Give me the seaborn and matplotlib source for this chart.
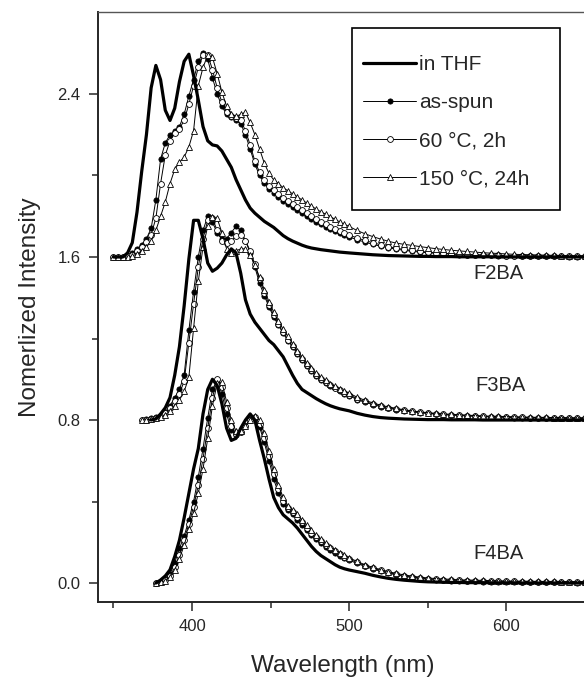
import numpy as np
import pandas as pd
import matplotlib
matplotlib.use("Agg")
import matplotlib.pyplot as plt
from matplotlib.patches import Rectangle
from matplotlib.ticker import FixedLocator, FormatStrFormatter
import seaborn as sns

nan = np.nan

# wavelength grid (nm) the spectra were read at
wavelength = [350, 353, 356, 359, 362, 365, 368, 371, 374, 377,
              380, 383, 386, 389, 392, 395, 398, 401, 404, 407,
              410, 413, 416, 419, 422, 425, 428, 431, 434, 437,
              440, 443, 446, 449, 452, 455, 458, 461, 464, 467,
              470, 473, 476, 479, 482, 485, 488, 491, 494, 497,
              500, 505, 510, 515, 520, 525, 530, 535, 540, 545,
              550, 555, 560, 565, 570, 575, 580, 585, 590, 595,
              600, 605, 610, 615, 620, 625, 630, 635, 640, 645,
              650]

# normalized intensities, each sample stacked later by its offset
f2ba_thf = [0, 0, 0, 0.02, 0.07, 0.22, 0.42, 0.60, 0.83, 0.94,
            0.87, 0.72, 0.67, 0.73, 0.86, 0.96, 0.995, 0.89, 0.77, 0.64,
            0.57, 0.55, 0.545, 0.52, 0.48, 0.44, 0.38, 0.33, 0.28, 0.24,
            0.215, 0.195, 0.175, 0.16, 0.145, 0.125, 0.105, 0.09, 0.078, 0.068,
            0.058, 0.05, 0.044, 0.04, 0.036, 0.033, 0.03, 0.027, 0.024, 0.022,
            0.02, 0.017, 0.014, 0.011, 0.009, 0.007, 0.006, 0.005, 0.004, 0.003,
            0.003, 0.002, 0.002, 0.002, 0.001, 0.001, 0.001, 0.001, 0.001, 0,
            0, 0, 0, 0, 0, 0, 0, 0, 0, 0,
            0]
f2ba_spun = [0, 0, 0, 0.005, 0.02, 0.04, 0.06, 0.09, 0.14, 0.28,
             0.48, 0.56, 0.60, 0.62, 0.64, 0.70, 0.79, 0.87, 0.96, 1.0,
             0.97, 0.88, 0.80, 0.74, 0.70, 0.685, 0.67, 0.655, 0.60, 0.53,
             0.455, 0.40, 0.365, 0.335, 0.315, 0.295, 0.277, 0.26, 0.245, 0.23,
             0.215, 0.2, 0.186, 0.172, 0.16, 0.148, 0.137, 0.126, 0.116, 0.107,
             0.098, 0.085, 0.073, 0.062, 0.053, 0.045, 0.038, 0.033, 0.028, 0.024,
             0.021, 0.018, 0.016, 0.014, 0.012, 0.011, 0.01, 0.009, 0.008, 0.007,
             0.006, 0.005, 0.005, 0.004, 0.004, 0.003, 0.003, 0.003, 0.002, 0.002,
             0.002]
f2ba_60 = [0, 0, 0, 0.003, 0.012, 0.03, 0.05, 0.075, 0.11, 0.19,
           0.36, 0.50, 0.57, 0.61, 0.63, 0.67, 0.75, 0.84, 0.93, 0.99,
           0.99, 0.92, 0.83, 0.76, 0.71, 0.69, 0.68, 0.67, 0.62, 0.55,
           0.47, 0.415, 0.38, 0.35, 0.33, 0.31, 0.29, 0.275, 0.26, 0.245,
           0.23, 0.215, 0.2, 0.185, 0.172, 0.16, 0.148, 0.137, 0.126, 0.116,
           0.107, 0.094, 0.081, 0.07, 0.06, 0.051, 0.043, 0.037, 0.032, 0.028,
           0.024, 0.021, 0.018, 0.016, 0.014, 0.012, 0.011, 0.01, 0.009, 0.008,
           0.007, 0.006, 0.006, 0.005, 0.005, 0.004, 0.004, 0.003, 0.003, 0.003,
           0.003]
f2ba_150 = [0, 0, 0, 0, 0.005, 0.015, 0.03, 0.05, 0.08, 0.13,
            0.20, 0.27, 0.36, 0.43, 0.465, 0.49, 0.54, 0.62, 0.84, 0.93,
            0.99, 0.98, 0.90, 0.81, 0.74, 0.70, 0.69, 0.70, 0.71, 0.66,
            0.60, 0.53, 0.46, 0.41, 0.378, 0.36, 0.34, 0.325, 0.31, 0.295,
            0.28, 0.265, 0.25, 0.235, 0.222, 0.21, 0.198, 0.185, 0.172, 0.16,
            0.15, 0.13, 0.114, 0.10, 0.088, 0.077, 0.068, 0.062, 0.057, 0.051,
            0.046, 0.041, 0.037, 0.033, 0.03, 0.027, 0.024, 0.021, 0.019, 0.017,
            0.015, 0.013, 0.012, 0.011, 0.01, 0.009, 0.008, 0.007, 0.007, 0.006,
            0.006]

f3ba_thf = [nan, nan, nan, nan, nan, nan, nan, nan, 0, 0.005,
            0.03, 0.06, 0.11, 0.22, 0.36, 0.56, 0.79, 0.98, 0.98, 0.89,
            0.77, 0.73, 0.745, 0.77, 0.81, 0.84, 0.82, 0.72, 0.59, 0.52,
            0.48, 0.45, 0.42, 0.39, 0.37, 0.34, 0.31, 0.265, 0.22, 0.18,
            0.15, 0.135, 0.12, 0.105, 0.092, 0.08, 0.07, 0.062, 0.055, 0.05,
            0.045, 0.033, 0.024, 0.017, 0.012, 0.009, 0.007, 0.005, 0.004, 0.003,
            0.002, 0.002, 0.002, 0.001, 0.001, 0.001, 0.001, 0, 0, 0,
            0, 0, 0, 0, 0, 0, 0, 0, 0, 0,
            0]
f3ba_spun = [nan, nan, nan, nan, nan, nan, 0, 0.003, 0.008, 0.015,
             0.025, 0.04, 0.07, 0.11, 0.15, 0.22, 0.44, 0.63, 0.80, 0.93,
             1.0, 0.97, 0.92, 0.89, 0.89, 0.92, 0.95, 0.93, 0.88, 0.82,
             0.75, 0.67, 0.61, 0.555, 0.505, 0.465, 0.425, 0.39, 0.36, 0.325,
             0.295, 0.265, 0.24, 0.215, 0.195, 0.18, 0.165, 0.155, 0.14, 0.13,
             0.12, 0.1, 0.087, 0.076, 0.066, 0.058, 0.051, 0.045, 0.04, 0.036,
             0.032, 0.029, 0.026, 0.024, 0.022, 0.02, 0.018, 0.017, 0.015, 0.014,
             0.013, 0.012, 0.011, 0.011, 0.01, 0.01, 0.009, 0.009, 0.008, 0.008,
             0.008]
f3ba_60 = [nan, nan, nan, nan, nan, nan, 0, 0.002, 0.006, 0.012,
           0.02, 0.035, 0.06, 0.095, 0.13, 0.19, 0.38, 0.57, 0.75, 0.89,
           0.98, 0.99, 0.93, 0.88, 0.87, 0.88, 0.905, 0.91, 0.88, 0.83,
           0.765, 0.69, 0.625, 0.565, 0.515, 0.47, 0.43, 0.395, 0.362, 0.33,
           0.3, 0.272, 0.246, 0.222, 0.202, 0.186, 0.171, 0.159, 0.146, 0.135,
           0.125, 0.105, 0.091, 0.079, 0.069, 0.061, 0.054, 0.048, 0.043, 0.038,
           0.034, 0.031, 0.028, 0.026, 0.024, 0.022, 0.02, 0.018, 0.017, 0.016,
           0.015, 0.014, 0.013, 0.012, 0.012, 0.011, 0.011, 0.01, 0.01, 0.009,
           0.009]
f3ba_150 = [nan, nan, nan, nan, nan, nan, 0, 0.002, 0.004, 0.008,
            0.015, 0.025, 0.045, 0.07, 0.1, 0.14, 0.21, 0.45, 0.68, 0.85,
            0.95, 0.995, 0.99, 0.92, 0.84, 0.82, 0.83, 0.84, 0.84, 0.81,
            0.76, 0.70, 0.64, 0.58, 0.53, 0.485, 0.445, 0.41, 0.375, 0.34,
            0.31, 0.28, 0.255, 0.23, 0.21, 0.194, 0.179, 0.166, 0.153, 0.142,
            0.132, 0.112, 0.097, 0.084, 0.073, 0.064, 0.057, 0.05, 0.045, 0.04,
            0.036, 0.033, 0.03, 0.028, 0.026, 0.024, 0.022, 0.02, 0.019, 0.018,
            0.017, 0.016, 0.015, 0.014, 0.013, 0.013, 0.012, 0.012, 0.011, 0.011,
            0.011]

f4ba_thf = [nan, nan, nan, nan, nan, nan, nan, nan, nan, 0,
            0.015, 0.035, 0.065, 0.13, 0.21, 0.32, 0.44, 0.56, 0.66, 0.83,
            0.95, 1.0, 0.97, 0.88, 0.76, 0.70, 0.71, 0.76, 0.80, 0.83,
            0.80, 0.70, 0.61, 0.51, 0.42, 0.37, 0.335, 0.315, 0.295, 0.27,
            0.24, 0.21, 0.18, 0.155, 0.135, 0.12, 0.105, 0.09, 0.078, 0.07,
            0.064, 0.056, 0.048, 0.038, 0.03, 0.023, 0.018, 0.014, 0.011, 0.008,
            0.006, 0.005, 0.004, 0.003, 0.003, 0.002, 0.002, 0.002, 0.001, 0.001,
            0.001, 0.001, 0, 0, 0, 0, 0, 0, 0, 0,
            0]
f4ba_spun = [nan, nan, nan, nan, nan, nan, nan, nan, nan, 0,
             0.008, 0.02, 0.045, 0.10, 0.17, 0.23, 0.31, 0.40, 0.52, 0.66,
             0.81, 0.95, 0.995, 0.93, 0.83, 0.75, 0.725, 0.74, 0.77, 0.805,
             0.81, 0.765, 0.69, 0.60, 0.51, 0.44, 0.39, 0.36, 0.34, 0.31,
             0.285, 0.26, 0.235, 0.215, 0.195, 0.178, 0.162, 0.148, 0.135, 0.123,
             0.112, 0.096, 0.082, 0.069, 0.058, 0.048, 0.04, 0.033, 0.027, 0.022,
             0.018, 0.015, 0.013, 0.011, 0.01, 0.009, 0.008, 0.007, 0.006, 0.006,
             0.005, 0.005, 0.004, 0.004, 0.004, 0.003, 0.003, 0.003, 0.003, 0.002,
             0.002]
f4ba_60 = [nan, nan, nan, nan, nan, nan, nan, nan, nan, 0,
           0.006, 0.016, 0.037, 0.077, 0.14, 0.21, 0.29, 0.375, 0.48, 0.61,
           0.76, 0.91, 1.0, 0.96, 0.86, 0.77, 0.73, 0.74, 0.77, 0.80,
           0.815, 0.78, 0.71, 0.625, 0.535, 0.46, 0.405, 0.37, 0.35, 0.325,
           0.298, 0.272, 0.247, 0.226, 0.205, 0.187, 0.17, 0.155, 0.142, 0.13,
           0.118, 0.101, 0.086, 0.073, 0.062, 0.052, 0.043, 0.036, 0.03, 0.025,
           0.021, 0.018, 0.016, 0.014, 0.013, 0.012, 0.011, 0.01, 0.009, 0.009,
           0.008, 0.008, 0.007, 0.007, 0.006, 0.006, 0.006, 0.005, 0.005, 0.005,
           0.005]
f4ba_150 = [nan, nan, nan, nan, nan, nan, nan, nan, nan, 0,
            0.004, 0.012, 0.03, 0.065, 0.12, 0.185, 0.265, 0.345, 0.44, 0.56,
            0.71, 0.87, 0.98, 0.985, 0.89, 0.80, 0.745, 0.745, 0.77, 0.80,
            0.82, 0.80, 0.735, 0.65, 0.56, 0.48, 0.42, 0.38, 0.36, 0.337,
            0.31, 0.284, 0.258, 0.236, 0.215, 0.196, 0.178, 0.163, 0.149, 0.136,
            0.124, 0.106, 0.09, 0.077, 0.066, 0.056, 0.047, 0.04, 0.034, 0.029,
            0.025, 0.022, 0.02, 0.018, 0.016, 0.015, 0.014, 0.013, 0.012, 0.011,
            0.01, 0.01, 0.009, 0.009, 0.008, 0.008, 0.008, 0.007, 0.007, 0.007,
            0.007]

samples = ["F2BA", "F3BA", "F4BA"]
offsets = [1.6, 0.8, 0.0]
conditions = ["in THF", "as-spun", "60 °C, 2h", "150 °C, 24h"]
spectra = {
    "F2BA": [f2ba_thf, f2ba_spun, f2ba_60, f2ba_150],
    "F3BA": [f3ba_thf, f3ba_spun, f3ba_60, f3ba_150],
    "F4BA": [f4ba_thf, f4ba_spun, f4ba_60, f4ba_150],
}

rows = []
for sample, off in zip(samples, offsets):
    for cond, vals in zip(conditions, spectra[sample]):
        for w, v in zip(wavelength, vals):
            rows.append((sample, cond, w, v + off))
df = pd.DataFrame(rows, columns=["sample", "condition", "wavelength", "intensity"]).dropna()

sns.set_style("ticks")
plt.rcParams["font.family"] = ["Liberation Sans", "DejaVu Sans"]

styles = {
    "in THF": dict(lw=2.3, zorder=5),
    "as-spun": dict(lw=0.7, marker="o", ms=3.8, mfc="black", mec="black", mew=0.5, zorder=3),
    "60 °C, 2h": dict(lw=0.7, marker="o", ms=4.2, mfc="white", mec="black", mew=0.6, zorder=3),
    "150 °C, 24h": dict(lw=0.7, marker="^", ms=4.5, mfc="white", mec="black", mew=0.6, zorder=4),
}

fig = plt.figure(figsize=(5.84, 6.80), dpi=100)
ax = fig.add_axes([0.1673, 0.1147, 0.8397, 0.867])

handles = {}
for sample in samples:
    for cond in ["as-spun", "60 °C, 2h", "150 °C, 24h", "in THF"]:
        sub = df[(df["sample"] == sample) & (df["condition"] == cond)]
        sns.lineplot(data=sub, x="wavelength", y="intensity", ax=ax, color="black",
                     estimator=None, errorbar=None, **styles[cond])
        handles.setdefault(cond, ax.lines[-1])

ax.set_xlim(340, 652)
ax.set_ylim(-0.093, 2.8)
ax.xaxis.set_major_locator(FixedLocator([400, 500, 600]))
ax.xaxis.set_minor_locator(FixedLocator([350, 450, 550, 650]))
ax.yaxis.set_major_locator(FixedLocator([0.0, 0.8, 1.6, 2.4]))
ax.yaxis.set_minor_locator(FixedLocator([0.4, 1.2, 2.0]))
ax.yaxis.set_major_formatter(FormatStrFormatter("%.1f"))
ax.tick_params(which="major", direction="out", length=6.5, width=1.1, labelsize=12, pad=6)
ax.tick_params(which="minor", direction="out", length=4.3, width=1.1)
ax.tick_params(top=False, right=False)

for side in ["left", "bottom"]:
    ax.spines[side].set_linewidth(1.4)
ax.spines["top"].set_linewidth(1.0)
ax.spines["top"].set_color("#555555")
ax.spines["right"].set_visible(False)

ax.set_xlabel("Wavelength (nm)", fontsize=17.5, labelpad=15)
ax.set_ylabel("Nomerlized Intensity", fontsize=17.5, labelpad=12)

for sample, (tx, ty) in zip(samples, [(595, 1.52), (596, 0.97), (595, 0.147)]):
    ax.text(tx, ty, sample, ha="center", va="center", fontsize=14.5)

# legend box drawn on its own, entries placed inside it
ax.add_patch(Rectangle((0.518, 0.665), 0.4247, 0.3082, transform=ax.transAxes,
                       facecolor="white", edgecolor="black", lw=1.2, zorder=6))
leg = ax.legend([handles[c] for c in conditions], conditions, loc="upper left",
                bbox_to_anchor=(0.541, 0.928), frameon=False, fontsize=15,
                handlelength=2.55, handletextpad=0.15, labelspacing=0.92,
                borderpad=0, borderaxespad=0, numpoints=1)
leg.set_zorder(7)

fig.savefig("out.png", dpi=100)
